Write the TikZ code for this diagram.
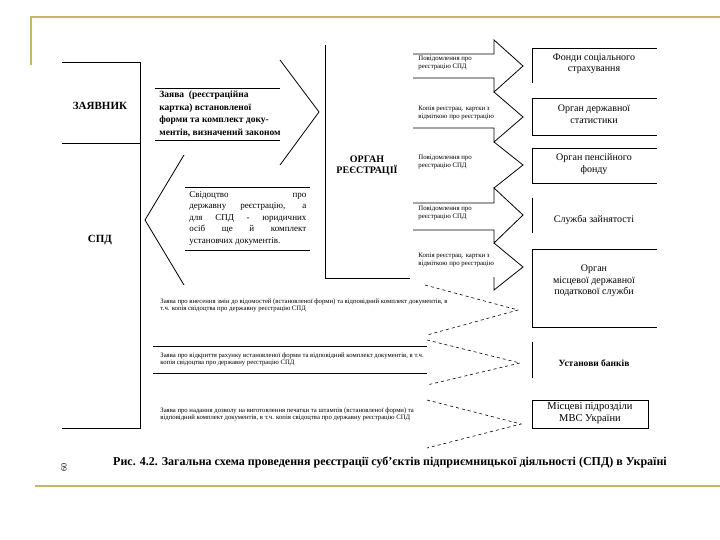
\documentclass[tikz,border=0pt]{standalone}
\usepackage{fontspec}
\setmainfont{Liberation Serif}
\usepackage{tikz}
\usetikzlibrary{positioning}
\definecolor{goldline}{HTML}{C9B46C}

\begin{document}
\begin{tikzpicture}[
    x=1pt, y=-1pt,
    line width=0.8pt,
    heading/.style={font=\bfseries\fontsize{11}{13}\selectfont},
    docnote/.style={font=\fontsize{6.8}{8}\selectfont,align=left,anchor=west,inner sep=0pt},
    agency/.style={font=\fontsize{10}{11.5}\selectfont,align=center},
    request/.style={font=\fontsize{6.7}{7.6}\selectfont,align=left,anchor=north west,inner sep=0pt},
    dashhead/.style={dashed,line width=0.6pt},
    goldrule/.style={goldline,line width=2.5pt},
  ]
    \useasboundingbox (0,0) rectangle (720,540);

    % slide frame
    \draw[goldrule] (31,65) -- (31,17) -- (720,17);
    \draw[goldrule] (35,486) -- (720,486);
    \node[rotate=90,font=\fontsize{8}{9}\selectfont] (pagenum) at (64,467) {60};

    % applicant and SPD
    \draw (62,62) -- (140,62) -- (140,428) -- (62,428);
    \draw (62,143) -- (140,143);
    \node[heading] (applicant) at (100,106) {ЗАЯВНИК};
    \node[heading] (spd) at (100,240) {СПД};

    % registration body
    \draw (325,45) -- (325,278) -- (410,278);
    \node[heading,font=\bfseries\fontsize{10}{11}\selectfont,align=center] (regbody) at (367,166) {ОРГАН\\РЕЄСТРАЦІЇ};

    % application -> registration body
    \draw (155,88) -- (280,88);
    \draw (155,140) -- (280,140);
    \draw (280,60) -- (319,112) -- (280,165);
    \node[font=\bfseries\fontsize{9.5}{12.5}\selectfont,align=left,inner sep=0pt,anchor=north west] (req) at (159,91)
      {Заява \ (реєстраційна\\картка) встановленої\\форми та комплект доку-\\ментів, визначений законом};

    % certificate -> SPD
    \draw (185,187) -- (310,187);
    \draw (185,250) -- (310,250);
    \draw (184,155) -- (145,220) -- (184,285);
    \node[font=\fontsize{9}{11.5}\selectfont,text width=117pt,align=justify,inner sep=0pt,anchor=north west] (cert) at (189,191)
      {Свідоцтво про\linebreak державну реєстрацію, а\linebreak для СПД - юридичних\linebreak осіб ще й комплект\linebreak установчих документів.};

    % notices from the registration body
    \draw (413,54) -- (494,54) -- (494,40) -- (523,66) -- (494,92) -- (494,78) -- (413,78);
    \draw (494,92) -- (523,117) -- (494,142) -- (494,128) -- (413,128);
    \draw (494,142) -- (523,165) -- (494,188);
    \draw (413,203) -- (494,203) -- (494,188) -- (523,215) -- (494,243) -- (494,230) -- (413,230);
    \draw (494,243) -- (523,267) -- (494,290) -- (494,277);
    \node[docnote] (msg1) at (418,63) {Повідомлення про\\реєстрацію СПД};
    \node[docnote] (msg2) at (418,113) {Копія реєстрац. картки з\\відміткою про реєстрацію};
    \node[docnote] (msg3) at (418,162) {Повідомлення про\\реєстрацію СПД};
    \node[docnote] (msg4) at (418,213) {Повідомлення про\\реєстрацію СПД};
    \node[docnote] (msg5) at (418,260) {Копія реєстрац. картки з\\відміткою про реєстрацію};

    % receiving agencies
    \draw (532,83) -- (532,48) -- (657,48);
    \draw (657,98) -- (532,98) -- (532,135) -- (657,135);
    \draw (657,148) -- (532,148) -- (532,183) -- (657,183);
    \draw (532,198) -- (532,233);
    \draw (657,249) -- (532,249) -- (532,327) -- (657,327);
    \draw (532,342) -- (532,378);
    \draw (532,400) rectangle (648,428);
    \node[agency] (fund) at (594,64) {Фонди соціального\\страхування};
    \node[agency] (stat) at (594,114) {Орган державної\\статистики};
    \node[agency] (pension) at (594,164) {Орган пенсійного\\фонду};
    \node[agency] (employ) at (594,220) {Служба зайнятості};
    \node[agency] (tax) at (594,281) {Орган\\місцевої державної\\податкової служби};
    \node[agency,font=\bfseries\fontsize{9.5}{11.5}\selectfont] (bank) at (594,363) {Установи банків};
    \node[agency,font=\fontsize{10.5}{11.5}\selectfont] (police) at (590,413) {Місцеві підрозділи\\МВС України};

    % applications of the SPD
    \draw (153,346) -- (427,346);
    \draw (153,373) -- (427,373);
    \draw[dashhead] (425,285) -- (518,310) -- (427,335);
    \draw[dashhead] (427,340) -- (520,363) -- (427,385);
    \draw[dashhead] (427,400) -- (521,424) -- (427,448);
    \node[request] (change) at (160,298) {Заява про внесення змін до відомостей (встановленої форми) та відповідний комплект документів, в\\т.ч. копія свідоцтва про державну реєстрацію СПД};
    \node[request] (account) at (160,352) {Заява про відкриття рахунку встановленої форми та відповідний комплект документів, в т.ч.\\копія свідоцтва про державну реєстрацію СПД};
    \node[request] (seal) at (160,407) {Заява про надання дозволу на виготовлення печатки та штампів (встановленої форми) та\\відповідний комплект документів, в т.ч. копія свідоцтва про державну реєстрацію СПД};

    \node[font=\bfseries\fontsize{12}{13}\selectfont] (caption) at (390,462)
      {Рис. 4.2. Загальна схема проведення реєстрації суб'єктів підприємницької діяльності (СПД) в Україні};
\end{tikzpicture}
\end{document}
